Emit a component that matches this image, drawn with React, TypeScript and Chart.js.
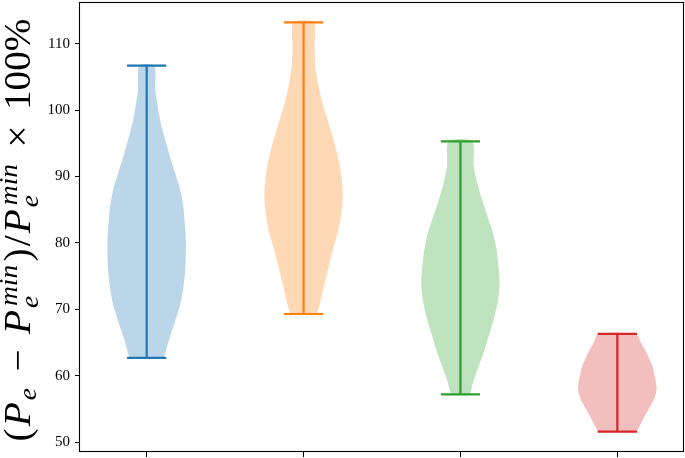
import { useEffect, useRef } from 'react';
import { Chart, registerables } from 'chart.js';

Chart.register(...registerables);

// ---- data ----
const positions = [1, 2, 3, 4];

const blueLevels = [62.7, 65.6, 68.1, 70.6, 73.1, 75.6, 78.1, 80.6, 83.1, 85.6, 88.1, 90.6, 93.1, 95.6, 98.1, 100.6, 103.1, 106.7];
const blueDensity = [0.44, 0.58, 0.72, 0.85, 0.93, 0.98, 1.0, 1.0, 0.97, 0.93, 0.85, 0.72, 0.59, 0.47, 0.36, 0.28, 0.22, 0.19];

const orangeLevels = [69.3, 71.7, 74.2, 76.7, 79.2, 81.7, 84.2, 86.8, 89.3, 91.8, 94.3, 96.8, 99.3, 101.8, 104.3, 106.8, 109.3, 113.2];
const orangeDensity = [0.35, 0.45, 0.55, 0.65, 0.76, 0.88, 0.96, 1.0, 0.98, 0.92, 0.82, 0.7, 0.57, 0.45, 0.36, 0.3, 0.28, 0.26];

const greenLevels = [57.2, 59.0, 61.5, 64.0, 66.5, 69.0, 71.5, 74.0, 76.5, 79.0, 81.5, 84.0, 86.5, 89.0, 91.6, 95.3];
const greenDensity = [0.25, 0.32, 0.47, 0.62, 0.75, 0.87, 0.96, 1.0, 0.97, 0.92, 0.83, 0.69, 0.55, 0.43, 0.34, 0.3];

const redLevels = [51.6, 52.0, 53.5, 55.0, 56.5, 58.0, 59.5, 61.5, 63.5, 65.0, 66.3];
const redDensity = [0.49, 0.53, 0.66, 0.8, 0.94, 1.0, 0.97, 0.89, 0.74, 0.6, 0.49];

const yTickValues = [50, 60, 70, 80, 90, 100, 110];

// ---- styles ----
const lineColors = ['#1f77b4', '#ff7f0e', '#2ca02c', '#d62728'];
const bodyColors = [
  'rgba(31,119,180,0.3)',
  'rgba(255,127,14,0.3)',
  'rgba(44,160,44,0.3)',
  'rgba(214,39,40,0.3)',
];
const halfWidth = 0.25;
const capHalf = 0.125;
const tickFont = '"Liberation Serif", "DejaVu Serif", serif';
const labelFontFamily = '"Liberation Serif", "DejaVu Serif", serif';

type Piece = { text?: string; italic?: boolean; sup?: string; sub?: string; op?: boolean };
const labelPieces: Piece[] = [
  { text: '(' },
  { text: 'P', italic: true },
  { sub: 'e' },
  { text: '\u2212', op: true },
  { text: 'P', italic: true },
  { sup: 'min', sub: 'e' },
  { text: ')' },
  { text: '/' },
  { text: 'P', italic: true },
  { sup: 'min', sub: 'e' },
  { text: '\u00d7', op: true },
  { text: '100%' },
];
const labelTargetLength = 425;
const labelFontSize = 37;
const labelBaselineX = 30;

const violinLevels = [blueLevels, orangeLevels, greenLevels, redLevels];
const violinDensity = [blueDensity, orangeDensity, greenDensity, redDensity];

const labelPlugin = {
  id: 'mathLabel',
  afterDraw(chart: any) {
    const { ctx, chartArea } = chart;
    const font = (size: number, italic?: boolean) =>
      `${italic ? 'italic ' : ''}${size}px ${labelFontFamily}`;
    const S = labelFontSize;
    const s = S * 0.7;
    const items: { w: number; p: Piece; pad: number }[] = [];
    let total = 0;
    let weights = 0;
    for (const p of labelPieces) {
      let w = 0;
      if (p.text !== undefined) {
        ctx.font = font(S, p.italic);
        w = ctx.measureText(p.text).width;
      } else {
        ctx.font = font(s, true);
        const a = p.sup ? ctx.measureText(p.sup).width + 0.05 * S : 0;
        const b = p.sub ? ctx.measureText(p.sub).width : 0;
        w = Math.max(a, b) + 0.03 * S;
      }
      const wt = p.op ? 2 : 0.15;
      items.push({ w, p, pad: wt });
      weights += wt * 2;
      total += w;
    }
    const k = Math.min(1.06, labelTargetLength / total);
    const extra = Math.max(0, labelTargetLength / k - total) / weights;
    const full = labelTargetLength / k;
    ctx.save();
    const cy = (chartArea.top + chartArea.bottom) / 2 + 3;
    ctx.translate(labelBaselineX, cy);
    ctx.rotate(-Math.PI / 2);
    ctx.scale(k, 1);
    ctx.fillStyle = '#000';
    ctx.textBaseline = 'alphabetic';
    ctx.textAlign = 'left';
    let x = -full / 2;
    for (const it of items) {
      const p = it.p;
      const padPx = it.pad * extra;
      x += padPx;
      if (p.text !== undefined) {
        ctx.font = font(S, p.italic);
        ctx.fillText(p.text, x, 0);
      } else {
        ctx.font = font(s, true);
        if (p.sup && p.sub) {
          ctx.fillText(p.sup, x + 0.05 * S, -0.34 * S);
          ctx.fillText(p.sub, x, 0.22 * S);
        } else if (p.sub) {
          ctx.fillText(p.sub, x, 0.16 * S);
        }
      }
      x += it.w + padPx;
    }
    ctx.restore();
  },
};

const framePlugin = {
  id: 'frame',
  afterDraw(chart: any) {
    const { ctx, chartArea } = chart;
    ctx.save();
    ctx.strokeStyle = '#000';
    ctx.lineWidth = 1.1;
    const l = Math.round(chartArea.left) - 0.5;
    const t = Math.round(chartArea.top) + 0.5;
    const r = Math.round(chartArea.right) - 0.5;
    const b = Math.round(chartArea.bottom) - 0.5;
    ctx.strokeRect(l, t, r - l, b - t);
    ctx.restore();
  },
};

export default function App() {
  const ref = useRef<HTMLCanvasElement | null>(null);
  useEffect(() => {
    document.body.style.margin = '0';
    const canvas = ref.current;
    if (!canvas) return;

    const allLevels = violinLevels.flat();
    const yLo = Math.min(...allLevels);
    const yHi = Math.max(...allLevels);
    const yPad = 0.05 * (yHi - yLo);
    const xLoData = positions[0] - halfWidth;
    const xHiData = positions[positions.length - 1] + halfWidth;
    const xPad = 0.05 * (xHiData - xLoData);

    const datasets: any[] = [];
    positions.forEach((pos, i) => {
      const lv = violinLevels[i];
      const dn = violinDensity[i];
      const right = lv.map((y, k) => ({ x: pos + halfWidth * dn[k], y }));
      const left = lv.map((y, k) => ({ x: pos - halfWidth * dn[k], y })).reverse();
      datasets.push({
        type: 'line',
        data: [...right, ...left],
        backgroundColor: bodyColors[i],
        borderColor: 'rgba(0,0,0,0)',
        borderWidth: 0,
        fill: 'shape',
        pointRadius: 0,
        tension: 0.25,
        order: 2,
      });
      const lo = lv[0];
      const hi = lv[lv.length - 1];
      const seg = (a: { x: number; y: number }, b: { x: number; y: number }) => ({
        type: 'line',
        data: [a, b],
        borderColor: lineColors[i],
        borderWidth: 2.2,
        pointRadius: 0,
        fill: false,
        tension: 0,
        order: 1,
      });
      datasets.push(seg({ x: pos, y: lo }, { x: pos, y: hi }));
      datasets.push(seg({ x: pos - capHalf, y: hi }, { x: pos + capHalf, y: hi }));
      datasets.push(seg({ x: pos - capHalf, y: lo }, { x: pos + capHalf, y: lo }));
    });

    const chart = new Chart(canvas, {
      type: 'line',
      data: { datasets },
      options: {
        animation: false,
        responsive: false,
        devicePixelRatio: 1,
        layout: { padding: { top: 2, right: 1, left: 0, bottom: 0 } },
        plugins: { legend: { display: false }, tooltip: { enabled: false } },
        scales: {
          x: {
            type: 'linear',
            min: xLoData - xPad,
            max: xHiData + xPad,
            ticks: { display: false },
            grid: { drawOnChartArea: false, tickLength: 5, tickColor: '#000', tickWidth: 1 },
            border: { display: false },
            afterBuildTicks: (s: any) => {
              s.ticks = positions.map((v) => ({ value: v }));
            },
            afterFit: (s: any) => {
              s.height = 6;
              s.paddingLeft = 0;
              s.paddingRight = 0;
            },
          },
          y: {
            type: 'linear',
            min: yLo - yPad,
            max: yHi + yPad,
            ticks: {
              color: '#000',
              font: { family: tickFont, size: 15 },
              padding: 5,
            },
            grid: { drawOnChartArea: false, tickLength: 5, tickColor: '#000', tickWidth: 1 },
            border: { display: false },
            afterBuildTicks: (s: any) => {
              s.ticks = yTickValues.map((v) => ({ value: v }));
            },
            afterFit: (s: any) => {
              s.width = 80;
              s.paddingTop = 0;
              s.paddingBottom = 0;
            },
          },
        },
      },
      plugins: [labelPlugin, framePlugin],
    } as any);
    return () => chart.destroy();
  }, []);

  return (
    <div style={{ width: 685, height: 458 }}>
      <canvas ref={ref} width={685} height={458} style={{ display: 'block' }} />
    </div>
  );
}
